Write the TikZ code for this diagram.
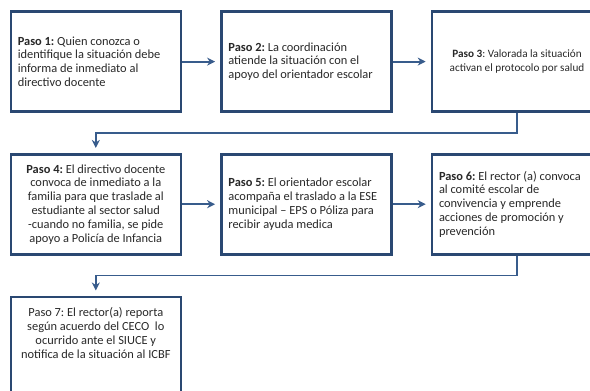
\documentclass[tikz,border=0pt]{standalone}
\usepackage{fontspec}
\setmainfont{Carlito}
\usepackage{tikz}
\usetikzlibrary{positioning, arrows.meta}

\definecolor{pasoazul}{RGB}{42,72,114}
\definecolor{flechaazul}{RGB}{56,92,140}
\definecolor{textogris}{RGB}{40,40,40}
\frenchspacing

\begin{document}
\begin{tikzpicture}[x=1pt, y=1pt, node distance=40pt and 38pt]
        \tikzset{
            pasobox/.style={draw=pasoazul, shape = rectangle, line width=2.6pt, minimum width=170pt, minimum height=100pt, inner sep=0pt},
            pasotexto/.style={inner sep=0pt, text=textogris, font=\fontsize{12.4}{13.8}\selectfont},
            izq/.style={pasobox, pasotexto, text width=156pt, align=flush left},
            cen/.style={pasobox, pasotexto, align=center},
            flecha/.style={draw=flechaazul, line width=1.8pt, -{Stealth[length=8pt, width=8pt]}, shorten >=5pt}
        }
        \clip (0,0) rectangle (590,-391);
        \node[izq, anchor=north west] (p1) at (9.5,-10.3) {\textbf{Paso 1:} Quien conozca o\\identifique la situación debe\\informa de inmediato al\\directivo docente};
        \node[izq] (p2) [right=of p1] {\textbf{Paso 2:} La coordinación\\atiende la situación con el\\apoyo del orientador escolar};
        \node[cen, font=\fontsize{11.2}{13.8}\selectfont] (p3) [right=of p2] {\textbf{Paso 3}: Valorada la situación\\activan el protocolo por salud};
        \node[cen] (p4) [below=of p1] {\textbf{Paso 4:} El directivo docente\\convoca de inmediato a la\\familia para que traslade al\\estudiante al sector salud\\-cuando no familia, se pide\\apoyo a Policía de Infancia};
        \node[izq] (p5) [right=of p4] {\textbf{Paso 5:} El orientador escolar\\acompaña el traslado a la ESE\\municipal – EPS o Póliza para\\recibir ayuda medica};
        \node[izq] (p6) [right=of p5] {\textbf{Paso 6:} El rector (a) convoca\\al comité escolar de\\convivencia y emprende\\acciones de promoción y\\prevención};
        \node[pasobox, minimum height=120pt] (p7) [below=of p4] {};
        \node[pasotexto, align=center] (t7) [below=12pt of p7.north] {Paso 7: El rector(a) reporta\\según acuerdo del CECO\ \ lo\\ocurrido ante el SIUCE y\\notifica de la situación al ICBF};
        \path (p1) edge [flecha] (p2);
        \path (p2) edge [flecha] (p3);
        \path (p4) edge [flecha] (p5);
        \path (p5) edge [flecha] (p6);
        \draw[flecha] (p3.south) -- ++(0,-20) -| (p4.north);
        \draw[flecha] (p6.south) -- ++(0,-20) -| (p7.north);
    \end{tikzpicture}
\end{document}
